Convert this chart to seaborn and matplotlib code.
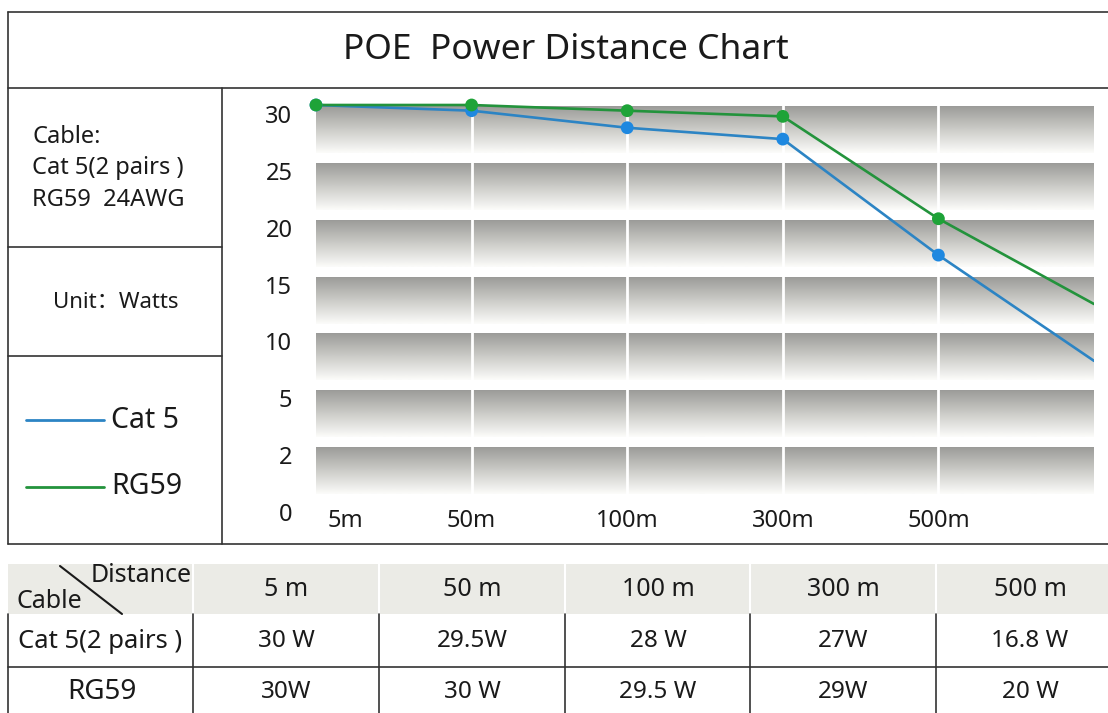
import numpy as np
import pandas as pd
import seaborn as sns
import matplotlib.pyplot as plt
from matplotlib.colors import LinearSegmentedColormap
from matplotlib.transforms import ScaledTranslation

# chart data
distances = ['5m', '50m', '100m', '300m', '500m']
cat5_watts = [30, 29.5, 28, 27, 16.8]
rg59_watts = [30, 30, 29.5, 29, 20]
# where each line leaves the right edge of the plot
cat5_edge = 7.5
rg59_edge = 12.5
ytick_vals = [0, 2, 5, 10, 15, 20, 25, 30]

# table below the chart
table_cols = ['5 m', '50 m', '100 m', '300 m', '500 m']
table_cat5 = ['30 W', '29.5W', '28 W', '27W', '16.8 W']
table_rg59 = ['30W', '30 W', '29.5 W', '29W', '20 W']

blue_line, blue_dot = '#2c84c4', '#1e88e0'
green_line, green_dot = '#23933c', '#1ea338'

sns.set_theme(style='white')
plt.rcParams['font.family'] = ['Noto Sans', 'Noto Sans CJK SC', 'DejaVu Sans']
ink = '#1a1a1a'

# y ticks are evenly spaced, so use a piecewise linear scale
scale_vals = [-10] + ytick_vals + [40]
scale_pos = [-5, 0, 1, 2, 3, 4, 5, 6, 7, 9]


def fwd(v):
    return np.interp(v, scale_vals, scale_pos)


def inv(p):
    return np.interp(p, scale_pos, scale_vals)


W, H = 1108, 713
fig = plt.figure(figsize=(W / 100, H / 100), dpi=100)

# background axes in pixel coordinates for frames and the table
bg = fig.add_axes([0, 0, 1, 1], zorder=0)
bg.set_xlim(0, W)
bg.set_ylim(H, 0)
bg.axis('off')

# chart frames
lc = '#333333'
lw = 1.2
bg.plot([8, W], [12, 12], color=lc, lw=lw)
bg.plot([8, W], [88, 88], color=lc, lw=lw)
bg.plot([8, W], [544, 544], color=lc, lw=lw)
bg.plot([8, 8], [12, 544], color=lc, lw=lw)
bg.plot([222, 222], [88, 544], color=lc, lw=lw)
bg.plot([8, 222], [247, 247], color=lc, lw=lw)
bg.plot([8, 222], [356, 356], color=lc, lw=lw)

bg.text(566, 50, 'POE  Power Distance Chart', fontsize=25.5, color=ink,
        ha='center', va='center')

# left panel
bg.text(32, 137, 'Cable:', fontsize=17, color=ink, va='center')
bg.text(32, 168, 'Cat 5(2 pairs )', fontsize=17, color=ink, va='center')
bg.text(32, 200, 'RG59  24AWG', fontsize=17, color=ink, va='center')
bg.text(116, 302, 'Unit：Watts', fontsize=16, color=ink, ha='center', va='center')
bg.plot([26, 104], [420, 420], color=blue_line, lw=2)
bg.text(111, 420, 'Cat 5', fontsize=20.5, color=ink, va='center')
bg.plot([26, 104], [487, 487], color=green_line, lw=2)
bg.text(111, 487, 'RG59', fontsize=20.5, color=ink, va='center')

# table
col_edges = [8, 193, 379, 565, 750, 936]
col_centers = [286, 472, 658, 843, 1030]
bg.fill_between([8, W], 564, 614, color='#ebebe6', lw=0)
for x in col_edges[1:]:
    bg.plot([x, x], [564, 614], color='white', lw=1.5)
    bg.plot([x, x], [614, H], color=lc, lw=lw)
bg.plot([8, 8], [614, H], color=lc, lw=lw)
bg.plot([8, W], [667, 667], color=lc, lw=lw)
bg.plot([60, 122], [566, 614], color=ink, lw=1.5)
bg.text(192, 575, 'Distance', fontsize=18, color=ink, ha='right', va='center')
bg.text(17, 601, 'Cable', fontsize=18, color=ink, va='center')
bg.text(18, 641, 'Cat 5(2 pairs )', fontsize=18.5, color=ink, va='center')
bg.text(102, 692, 'RG59', fontsize=20, color=ink, ha='center', va='center')
for cx, h, a, b in zip(col_centers, table_cols, table_cat5, table_rg59):
    bg.text(cx, 590, h, fontsize=18, color=ink, ha='center', va='center')
    bg.text(cx, 641, a, fontsize=17.5, color=ink, ha='center', va='center')
    bg.text(cx, 692, b, fontsize=17.5, color=ink, ha='center', va='center')

# plot area
ax = fig.add_axes([316 / W, 1 - 503 / H, 778 / W, (503 - 93) / H], zorder=1)
ax.set_yscale('function', functions=(fwd, inv))
ax.patch.set_alpha(0)

# gradient bands hanging under every tick except 0
cmap = LinearSegmentedColormap.from_list('band', ['#989896', '#cacac6', '#fbfbf9'])
grad = np.linspace(0, 1, 256).reshape(-1, 1)
band_px = 48 / 56.86
for k in range(1, len(ytick_vals)):
    top = ytick_vals[k]
    bottom = inv(k - band_px)
    ax.imshow(grad, cmap=cmap, aspect='auto', origin='upper',
              extent=(0, 5, bottom, top), zorder=1, interpolation='bilinear')
for k in range(1, 5):
    ax.axvline(k, color='white', lw=2, zorder=2)

n = len(distances)
lines = pd.DataFrame({
    'pos': list(range(n + 1)) * 2,
    'watts': cat5_watts + [cat5_edge] + rg59_watts + [rg59_edge],
    'cable': ['Cat 5'] * (n + 1) + ['RG59'] * (n + 1),
})
points = pd.DataFrame({
    'pos': list(range(n)) * 2,
    'watts': cat5_watts + rg59_watts,
    'cable': ['Cat 5'] * n + ['RG59'] * n,
})
sns.lineplot(data=lines, x='pos', y='watts', hue='cable', ax=ax, legend=False,
             palette={'Cat 5': blue_line, 'RG59': green_line}, lw=1.9, zorder=3)
sns.scatterplot(data=points[points.cable == 'Cat 5'], x='pos', y='watts', ax=ax,
                color=blue_dot, s=85, edgecolor='none', zorder=4, clip_on=False)
sns.scatterplot(data=points[points.cable == 'RG59'], x='pos', y='watts', ax=ax,
                color=green_dot, s=85, edgecolor='none', zorder=5, clip_on=False)

ax.set_xlim(0, 5)
ax.set_ylim(0, inv(7 + 12 / 56.86))
ax.set_xticks(range(n))
ax.set_xticklabels(distances)
ax.set_yticks(ytick_vals)
ax.set_yticklabels([str(v) for v in ytick_vals])
ax.tick_params(axis='both', length=0, labelsize=17, labelcolor=ink)
ax.tick_params(axis='y', pad=17)
ax.tick_params(axis='x', pad=4)
ax.set_xlabel('')
ax.set_ylabel('')
ax.grid(False)
for s in ax.spines.values():
    s.set_visible(False)

shift_down = ScaledTranslation(0, -9 / 100, fig.dpi_scale_trans)
for lab in ax.get_yticklabels():
    lab.set_transform(lab.get_transform() + shift_down)
xlabs = ax.get_xticklabels()
xlabs[0].set_transform(xlabs[0].get_transform() + ScaledTranslation(29 / 100, 0, fig.dpi_scale_trans))

fig.savefig('out.png', dpi=100)
